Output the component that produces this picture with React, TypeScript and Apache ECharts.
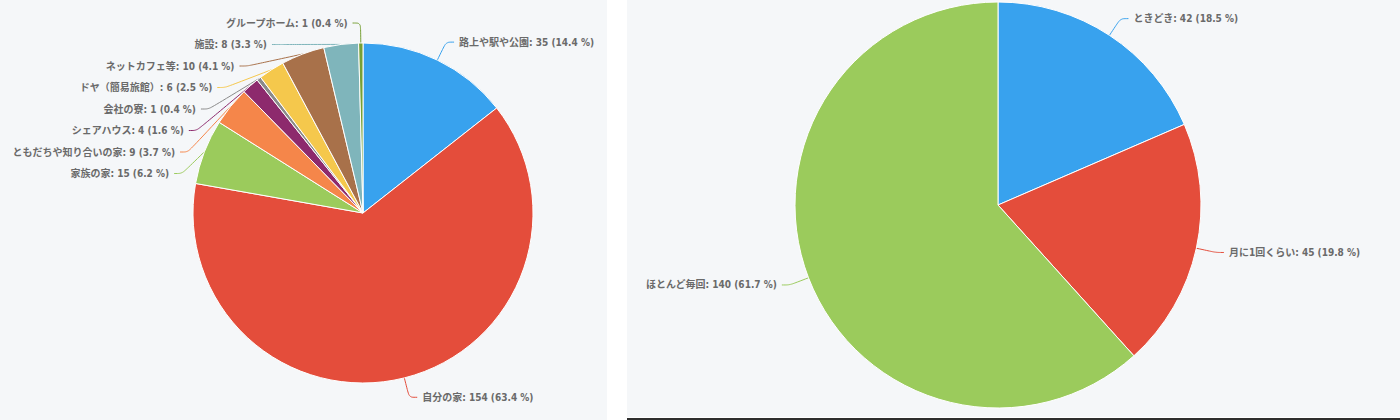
import { useEffect, useRef } from "react";
import * as echarts from "echarts";

// Left pie: where people stayed (clockwise from 12 o'clock)
const placeNames = [
  "路上や駅や公園",
  "自分の家",
  "家族の家",
  "ともだちや知り合いの家",
  "シェアハウス",
  "会社の寮",
  "ドヤ（簡易旅館）",
  "ネットカフェ等",
  "施設",
  "グループホーム",
];
const placeValues = [35, 154, 15, 9, 4, 1, 6, 10, 8, 1];
const placeColors = [
  "#38a2ee", "#e44d3b", "#9bcb5c", "#f5864a", "#8d2a6d",
  "#8a8a8a", "#f5c84c", "#a8714a", "#7fb5bb", "#76a034",
];

// Right pie: frequency
const freqNames = ["ときどき", "月に1回くらい", "ほとんど毎回"];
const freqValues = [42, 45, 140];
const freqColors = ["#38a2ee", "#e44d3b", "#9bcb5c"];

const PANEL_BG = "#f5f7f9";
const LABEL = "#6a6a6a";
const FONT = "'DejaVu Sans Condensed', 'Noto Sans CJK JP', sans-serif";

function pieSeries(names: string[], values: number[], colors: string[], center: [number, number], radius: number) {
  return {
    type: "pie",
    center,
    radius,
    startAngle: 90,
    clockwise: true,
    percentPrecision: 1,
    avoidLabelOverlap: true,
    bleedMargin: 0,
    itemStyle: { borderColor: "#ffffff", borderWidth: 1 },
    label: {
      show: true,
      formatter: "{b}: {c} ({d} %)",
      color: LABEL,
      fontSize: 10,
      fontWeight: "bold",
      fontFamily: FONT,
      lineHeight: 19.5,
      overflow: "none",
      distanceToLabelLine: 5,
    },
    labelLine: {
      show: true,
      length: 20,
      length2: 8,
      smooth: true,
      lineStyle: { width: 1 },
    },
    emphasis: { disabled: true },
    data: names.map((n, i) => ({
      name: n,
      value: values[i],
      itemStyle: { color: colors[i] },
      labelLine: { lineStyle: { color: colors[i] } },
    })),
  };
}

export default function App() {
  const ref = useRef<HTMLDivElement | null>(null);

  useEffect(() => {
    if (!ref.current) return;
    const chart = echarts.init(ref.current, undefined, { renderer: "svg" });
    chart.setOption({
      animation: false,
      backgroundColor: "#ffffff",
      graphic: [
        { type: "rect", shape: { x: 0, y: 0, width: 607, height: 420 }, style: { fill: PANEL_BG }, z: -10 },
        { type: "rect", shape: { x: 627, y: 0, width: 773, height: 417 }, style: { fill: PANEL_BG }, z: -10 },
        { type: "rect", shape: { x: 627, y: 418, width: 773, height: 2 }, style: { fill: "#2e2e2e" }, z: -10 },
      ],
      series: [
        pieSeries(placeNames, placeValues, placeColors, [363, 213], 170),
        pieSeries(freqNames, freqValues, freqColors, [998, 205], 203),
      ],
    });
    return () => chart.dispose();
  }, []);

  return (
    <div style={{ position: "fixed", left: 0, top: 0, width: 1400, height: 420 }}>
      <div ref={ref} style={{ width: 1400, height: 420 }} />
    </div>
  );
}
